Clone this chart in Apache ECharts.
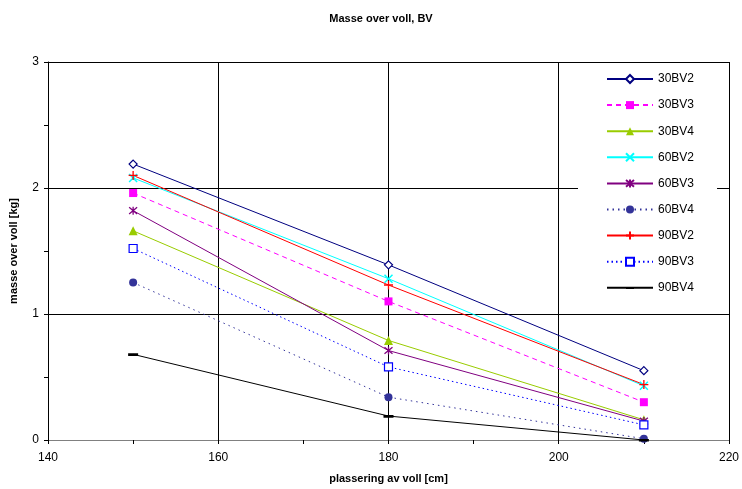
<!DOCTYPE html>
<html>
<head>
<meta charset="utf-8">
<script src="https://cdn.jsdelivr.net/npm/echarts@6/dist/echarts.min.js"></script>
<style>html,body{margin:0;padding:0;background:#fff}#c{width:742px;height:489px}</style>
</head>
<body>
<div id="c"></div>
<script>
var xValues = [150, 180, 210];
var xTicks = [140, 160, 180, 200, 220];
var yTicks = [0, 1, 2, 3];
var s30BV2 = [2.19, 1.39, 0.55];
var s30BV3 = [1.96, 1.10, 0.30];
var s30BV4 = [1.66, 0.79, 0.16];
var s60BV2 = [2.08, 1.28, 0.43];
var s60BV3 = [1.82, 0.71, 0.15];
var s60BV4 = [1.25, 0.34, 0.01];
var s90BV2 = [2.10, 1.23, 0.44];
var s90BV3 = [1.52, 0.58, 0.12];
var s90BV4 = [0.68, 0.19, 0.00];

function pts(v){ return xValues.map(function(x,i){ return [x, v[i]]; }); }

var font = 'Liberation Sans, Arial, sans-serif';
var X = 'path://M0,0L10,10M10,0L0,10';
var AST = 'path://M0,0L10,10M10,0L0,10M5,-1L5,11';
var PLUS = 'path://M5,0L5,10M0,5L10,5';
var DASH = 'path://M0,4L10,4L10,6.6L0,6.6Z M0,0L0.01,0 M0,10L0.01,10';

function ser(name, data, color, lineType, symbol, size, fill, bw, stroke){
  return {
    name: name, type: 'line', data: pts(data),
    symbol: symbol, symbolSize: size, symbolKeepAspect: false,
    lineStyle: {color: color, width: 1, type: lineType},
    itemStyle: {color: fill, borderColor: stroke || color, borderWidth: bw},
    emphasis: {disabled: true}, animation: false, z: 3
  };
}

var series = [
  ser('30BV2', s30BV2, '#000080', 'solid', 'diamond', 8, '#ffffff', 1.2),
  ser('30BV3', s30BV3, '#ff00ff', [5,4], 'rect', 8, '#ff00ff', 0),
  ser('30BV4', s30BV4, '#99cc00', 'solid', 'triangle', 9, '#99cc00', 0),
  ser('60BV2', s60BV2, '#00ffff', 'solid', X, 8, 'none', 1.5),
  ser('60BV3', s60BV3, '#800080', 'solid', AST, 8, 'none', 1.3),
  ser('60BV4', s60BV4, '#333399', [1.5,4], 'circle', 8, '#333399', 0),
  ser('90BV2', s90BV2, '#ff0000', 'solid', PLUS, 9, 'none', 1.3),
  ser('90BV3', s90BV3, '#0000ff', [1.5,3], 'rect', 8, '#ffffff', 1.2),
  ser('90BV4', s90BV4, '#000000', 'solid', DASH, 10, '#000000', 0)
];

var chart = echarts.init(document.getElementById('c'), null, {renderer: 'canvas'});
chart.setOption({
  backgroundColor: '#ffffff',
  animation: false,
  title: {
    text: 'Masse over voll, BV', left: 376, top: 8, textAlign: 'center',
    textStyle: {fontFamily: font, fontSize: 11, fontWeight: 'bold', color: '#000'}
  },
  grid: {left: 46, right: 10, top: 62, bottom: 49, containLabel: false},
  legend: {
    orient: 'vertical', left: 578, top: 65, width: 140,
    backgroundColor: '#ffffff',
    padding: [7, 23, 10, 28],
    itemWidth: 46, itemHeight: 10, itemGap: 12.1,
    textStyle: {fontFamily: font, fontSize: 12, color: '#000', lineHeight: 14},
    data: series.map(function(s){ return s.name; })
  },
  xAxis: {
    type: 'value', min: xTicks[0], max: xTicks[xTicks.length-1], interval: 20,
    name: 'plassering av voll [cm]', nameLocation: 'middle', nameGap: 33,
    nameTextStyle: {fontFamily: font, fontSize: 11, fontWeight: 'bold', color: '#000'},
    axisLine: {show: true, lineStyle: {color: '#808080', width: 1}},
    axisTick: {show: true, length: 4, lineStyle: {color: '#000'}},
    minorTick: {show: true, splitNumber: 2, length: 4, lineStyle: {color: '#000'}},
    splitLine: {show: true, lineStyle: {color: '#000', width: 1}},
    axisLabel: {fontFamily: font, fontSize: 12, color: '#000', margin: 12}
  },
  yAxis: {
    type: 'value', min: yTicks[0], max: yTicks[yTicks.length-1], interval: 1,
    name: 'masse over voll [kg]', nameLocation: 'middle', nameGap: 29, nameRotate: 90,
    nameTextStyle: {fontFamily: font, fontSize: 11, fontWeight: 'bold', color: '#000'},
    axisLine: {show: true, lineStyle: {color: '#000', width: 1}},
    axisTick: {show: true, length: 4, lineStyle: {color: '#000'}},
    minorTick: {show: true, splitNumber: 2, length: 4, lineStyle: {color: '#000'}},
    splitLine: {show: true, lineStyle: {color: '#000', width: 1}},
    axisLabel: {fontFamily: font, fontSize: 12, color: '#000', margin: 9}
  },
  series: series
});
</script>
</body>
</html>
